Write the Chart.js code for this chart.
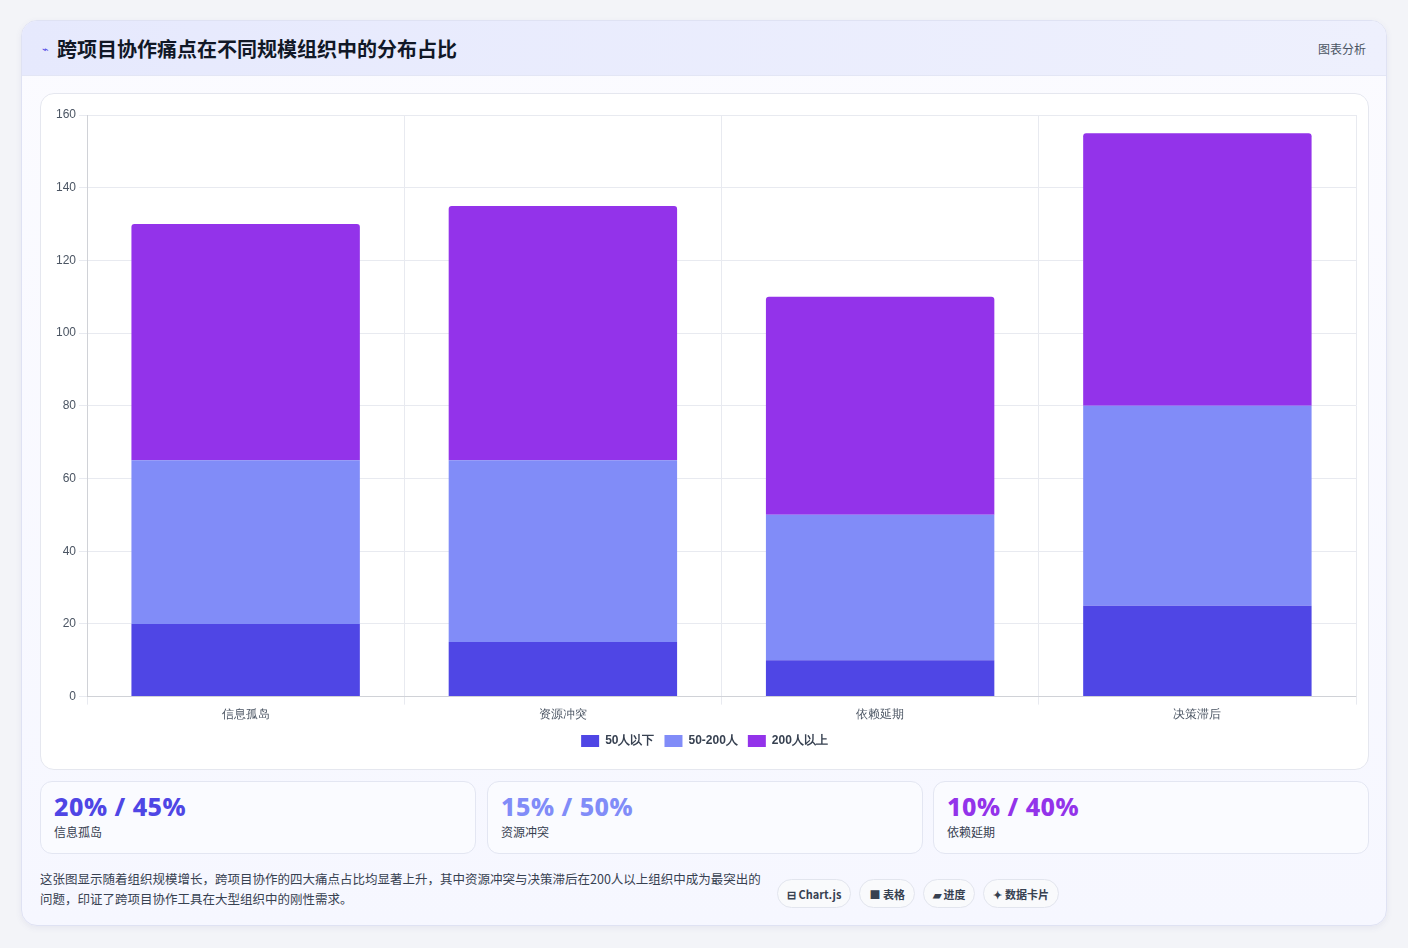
<!DOCTYPE html>
<html><head><meta charset="utf-8">
<script src="https://cdn.jsdelivr.net/npm/chart.js@4"></script>
<style>
*{box-sizing:border-box}
body{margin:0;width:1408px;height:948px;background:#f3f4f8;font-family:"Noto Sans CJK SC","Noto Sans",sans-serif;}
.card{position:absolute;left:21px;top:20px;width:1366px;height:906px;background:linear-gradient(180deg,#fbfbff,#f6f7ff);border:1px solid #dfe2f3;border-radius:16px;overflow:hidden;box-shadow:0 2px 6px rgba(80,80,140,.08)}
.hdr{height:55px;background:linear-gradient(90deg,#e6e9fd,#eef0fd);border-bottom:1px solid #e3e6f5;display:flex;align-items:center;padding:0 20px}
.hdr .t{font-size:20px;font-weight:700;color:#111827;margin-left:8px}
.hdr .ic{color:#4f46e5;font-size:11px}
.hdr .r{margin-left:auto;font-size:12px;color:#4b5563}
.cbox{position:absolute;left:18px;top:72px;width:1329px;height:677px;background:#fff;border:1px solid #e5e7ef;border-radius:14px}
.stat{position:absolute;top:760px;width:436px;height:73px;background:#fafbff;border:1px solid #e3e6f2;border-radius:12px;padding:7px 13px}
.stat .v{font-size:25px;font-weight:800;font-family:"Noto Sans",sans-serif;letter-spacing:0.5px}
.stat .l{font-size:12px;color:#374151;margin-top:0px}
.foot{position:absolute;left:18px;top:848px;width:728px;font-size:12.5px;color:#374151;line-height:20px}
.tags{position:absolute;left:755px;top:858px;display:flex;gap:8px}
.tag{height:29px;border:1px solid #e2e5ee;border-radius:15px;background:#f9fafc;font-size:11px;font-weight:700;color:#374151;padding:0 9px;display:flex;align-items:center}
</style></head><body>
<div class="card">
 <div class="hdr"><span class="ic">⌁</span><span class="t">跨项目协作痛点在不同规模组织中的分布占比</span><span class="r">图表分析</span></div>
 <div class="cbox"><canvas id="c" width="1327" height="675"></canvas></div>
 <div class="stat" style="left:18px"><div class="v" style="color:#4f46e5">20% / 45%</div><div class="l">信息孤岛</div></div>
 <div class="stat" style="left:465px"><div class="v" style="color:#818cf8">15% / 50%</div><div class="l">资源冲突</div></div>
 <div class="stat" style="left:911px"><div class="v" style="color:#9333ea">10% / 40%</div><div class="l">依赖延期</div></div>
 <div class="foot">这张图显示随着组织规模增长，跨项目协作的四大痛点占比均显著上升，其中资源冲突与决策滞后在200人以上组织中成为最突出的问题，印证了跨项目协作工具在大型组织中的刚性需求。</div>
 <div class="tags"><div class="tag">⊟ Chart.js</div><div class="tag">■ 表格</div><div class="tag">▰ 进度</div><div class="tag">✦ 数据卡片</div></div>
</div>
<script>
const categories=["信息孤岛","资源冲突","依赖延期","决策滞后"];
const small=[20,15,10,25];
const mid=[45,50,40,55];
const large=[65,70,60,75];
const seriesNames=["50人以下","50-200人","200人以上"];
const colors=["#4f46e5","#818cf8","#9333ea"];
const el=document.getElementById('c');
el.style.width='1327px';el.style.height='675px';
new Chart(el,{type:'bar',data:{labels:categories,datasets:[small,mid,large].map((d,i)=>({label:seriesNames[i],data:d,backgroundColor:colors[i],borderRadius:i===2?{topLeft:3,topRight:3}:0,borderSkipped:false,categoryPercentage:0.8,barPercentage:0.9}))},
options:{responsive:false,animation:false,layout:{padding:{left:12,right:12,top:21,bottom:12}},
scales:{x:{stacked:true,grid:{color:'#e8eaf0'},ticks:{color:'#4b5563',font:{size:12}}},
y:{stacked:true,min:0,max:160,ticks:{stepSize:20,color:'#4b5563',font:{size:12}},grid:{color:'#e8eaf0'}}},
plugins:{legend:{position:'bottom',labels:{boxWidth:18,boxHeight:12,color:'#374151',font:{size:12,weight:'bold'}}},tooltip:{enabled:false}}}});
</script>
</body></html>
